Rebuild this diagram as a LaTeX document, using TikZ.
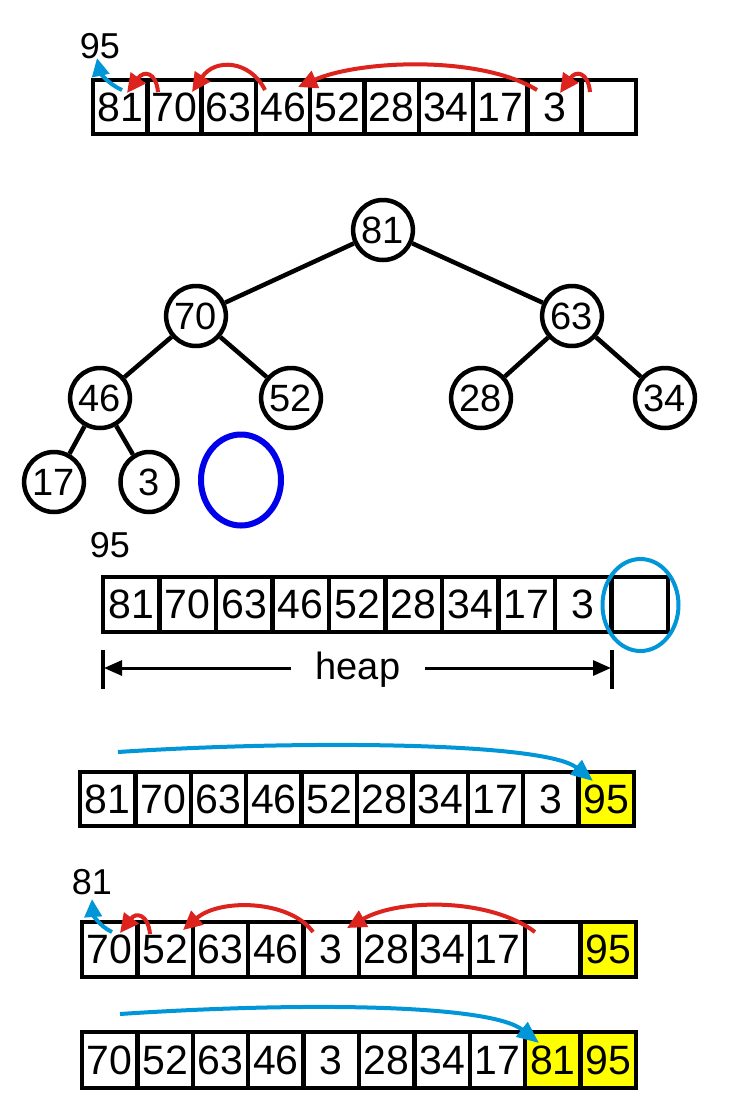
\documentclass[tikz,border=0pt]{standalone}
\usepackage{fontspec}
\setmainfont{Liberation Sans}
\usetikzlibrary{arrows.meta,shapes.geometric,calc}
\definecolor{redA}{RGB}{220,35,30}
\definecolor{blueA}{RGB}{0,150,215}
\definecolor{blueE}{RGB}{0,0,235}
\definecolor{yel}{RGB}{255,255,0}
\tikzset{
 cell/.style={draw=black, line width=4.5pt, rectangle, inner sep=0pt, font=\fontsize{41}{43}\selectfont},
 tnode/.style={draw=black, line width=4.5pt, ellipse, minimum width=57pt, minimum height=60pt, inner sep=0pt, fill=white, font=\fontsize{38}{40}\selectfont},
 edge/.style={line width=4.5pt, black},
 lbl/.style={inner sep=0pt, font=\fontsize{36}{38}\selectfont},
 redarr/.style={draw=redA, line width=4pt, -{Triangle[length=19pt,width=18pt]}},
 bluearr/.style={draw=blueA, line width=4pt, -{Triangle[length=18pt,width=17pt]}},
 bigblue/.style={draw=blueA, line width=4pt, -{Triangle[length=22pt,width=18pt]}},
 dimarr/.style={draw=black, line width=3pt, -{Triangle[length=18pt,width=15pt]}},
 tick/.style={draw=black, line width=4pt},
}
\newcommand\heaprow[6]{%
 \foreach [count=\i] \v/\f in {#6} {
   \node[cell, fill=\f, minimum width=#4pt, minimum height=#5pt] (#1-\i) at ({#2+(\i-0.5)*#4}, #3) {\v};
 }}
\begin{document}
\begin{tikzpicture}[x=1pt,y=-1pt]
\path[use as bounding box, fill=white] (0,0) rectangle (736,1104);

% ---------- row 1 ----------
\heaprow{ra}{93}{107}{54.3}{54}{81/white,70/white,63/white,46/white,52/white,28/white,34/white,17/white,3/white,{}/white}
\node[lbl] (la) at (100,46) {95};
\coordinate (a0s) at (122,90);
\coordinate (a0t) at (97,58);
\draw[bluearr] (a0s) .. controls (108,84) and (100,72) .. (a0t);
\coordinate (a1s) at (158,92);
\coordinate (a1t) at (127,93);
\draw[redarr] (a1s) .. controls (156,72) and (144,70) .. (a1t);
\coordinate (a2s) at (265,90);
\coordinate (a2t) at (192,92);
\draw[redarr] (a2s) .. controls (250,60) and (215,58) .. (a2t);
\coordinate (a3s) at (537,90);
\coordinate (a3t) at (298,87);
\draw[redarr] (a3s) .. controls (480,55) and (360,60) .. (a3t);
\coordinate (a4s) at (590,92);
\coordinate (a4t) at (560,93);
\draw[redarr] (a4s) .. controls (588,72) and (576,70) .. (a4t);

% ---------- tree ----------
\node[tnode] (t81) at (383,230) {81};
\node[tnode] (t70) at (196,316) {70};
\node[tnode] (t63) at (572,316) {63};
\node[tnode] (t46) at (100,398) {46};
\node[tnode] (t52) at (291,398) {52};
\node[tnode] (t28) at (481,398) {28};
\node[tnode] (t34) at (665,398) {34};
\node[tnode] (t17) at (54,482) {17};
\node[tnode] (t3) at (149,482) {3};
\draw[edge] (t81) -- (t70);
\draw[edge] (t81) -- (t63);
\draw[edge] (t70) -- (t46);
\draw[edge] (t70) -- (t52);
\draw[edge] (t63) -- (t28);
\draw[edge] (t63) -- (t34);
\draw[edge] (t46) -- (t17);
\draw[edge] (t46) -- (t3);
\node[draw=blueE, line width=6pt, ellipse, minimum width=80pt, minimum height=91pt, inner sep=0pt] (hole) at (241,480) {};

% ---------- row 2 ----------
\node[lbl] (lb) at (110,545) {95};
\heaprow{rb}{103}{604.5}{56.5}{55}{81/white,70/white,63/white,46/white,52/white,28/white,34/white,17/white,3/white,{}/white}
\node[draw=blueA, line width=4pt, ellipse, minimum width=76pt, minimum height=92pt, inner sep=0pt] (ring) at (640.5,605) {};
\coordinate (hlt) at (103,650);
\coordinate (hlb) at (103,689);
\coordinate (hrt) at (612,650);
\coordinate (hrb) at (612,689);
\draw[tick] (hlt) -- (hlb);
\draw[tick] (hrt) -- (hrb);
\node[lbl, anchor=base, font=\fontsize{38}{40}\selectfont] (heap) at (358,679) {heap};
\coordinate (hL) at (104,668);
\coordinate (hR) at (611,668);
\coordinate (hmL) at (291,668);
\coordinate (hmR) at (425,668);
\draw[dimarr] (hmL) -- (hL);
\draw[dimarr] (hmR) -- (hR);

% ---------- row 3 ----------
\heaprow{rc}{80}{799}{55.4}{54}{81/white,70/white,63/white,46/white,52/white,28/white,34/white,17/white,3/white,95/yel}
\coordinate (c0s) at (118,752);
\coordinate (c0t) at (593,781);
\draw[bigblue] (c0s) .. controls (300,740) and (545,742) .. (c0t);

% ---------- row 4 ----------
\node[lbl] (ld) at (92,882) {81};
\heaprow{rd}{82}{949.5}{55.4}{55}{70/white,52/white,63/white,46/white,3/white,28/white,34/white,17/white,{}/white,95/yel}
\coordinate (d0s) at (112,932);
\coordinate (d0t) at (92,899);
\draw[bluearr] (d0s) .. controls (99,926) and (93,914) .. (d0t);
\coordinate (d1s) at (150,934);
\coordinate (d1t) at (120,933);
\draw[redarr] (d1s) .. controls (148,914) and (136,912) .. (d1t);
\coordinate (d2s) at (313,932);
\coordinate (d2t) at (183,930);
\draw[redarr] (d2s) .. controls (290,900) and (220,898) .. (d2t);
\coordinate (d3s) at (535,932);
\coordinate (d3t) at (347,928);
\draw[redarr] (d3s) .. controls (490,898) and (400,898) .. (d3t);

% ---------- row 5 ----------
\heaprow{re}{82}{1060}{55.4}{56}{70/white,52/white,63/white,46/white,3/white,28/white,34/white,17/white,81/yel,95/yel}
\coordinate (e0s) at (120,1014);
\coordinate (e0t) at (539,1043);
\draw[bigblue] (e0s) .. controls (300,1002) and (490,1004) .. (e0t);
\end{tikzpicture}
\end{document}
